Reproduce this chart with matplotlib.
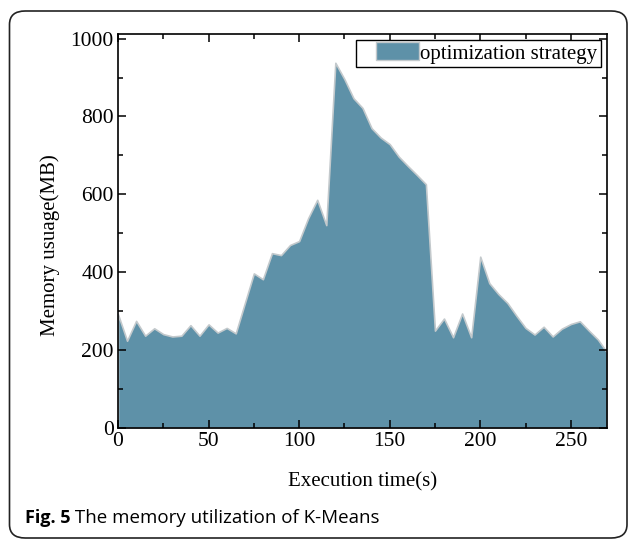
import matplotlib
matplotlib.use("Agg")
import matplotlib.pyplot as plt
from matplotlib.patches import FancyBboxPatch, Rectangle, Patch
from matplotlib.legend_handler import HandlerPatch
from matplotlib.ticker import MultipleLocator

# Speicherverbrauch K-Means (optimierte Strategie), Abtastung alle 5 s
zeit = list(range(0, 275, 5))
speicher = [292, 224, 275, 237, 256, 241, 235, 237, 264, 237,
            266, 245, 257, 243, 320, 397, 382, 449, 444, 470,
            480, 539, 586, 521, 938, 896, 847, 822, 770, 746,
            729, 697, 673, 650, 626, 250, 281, 233, 294, 233,
            440, 372, 344, 321, 288, 257, 240, 260, 235, 255,
            267, 274, 250, 227, 194]
legende = 'optimization strategy'
x_titel = 'Execution time(s)'
y_titel = 'Memory usuage(MB)'
bild_nr = 'Fig. 5'
bild_text = ' The memory utilization of K-Means'

farbe = '#5e91a8'
rand = '#c3c9cc'

plt.rcParams['font.family'] = ['Liberation Serif', 'DejaVu Serif']

fig = plt.figure(figsize=(6.3, 5.39), dpi=100)
ax = fig.add_axes([0.1873, 0.206, 0.9635 - 0.1873, 0.937 - 0.206])

ax.fill_between(zeit, speicher, 0, facecolor=farbe, edgecolor=rand, linewidth=1.2)

ax.set_xlim(0, 270)
ax.set_ylim(0, 1012)
ax.xaxis.set_major_locator(MultipleLocator(50))
ax.xaxis.set_minor_locator(MultipleLocator(25))
ax.yaxis.set_major_locator(MultipleLocator(200))
ax.yaxis.set_minor_locator(MultipleLocator(100))
ax.tick_params(which='both', direction='in', top=True, right=True,
               width=1.1, labelsize=15.5, pad=3)
ax.tick_params(which='major', length=6)
ax.tick_params(which='minor', length=3.5)
for s in ax.spines.values():
    s.set_linewidth(1.2)

ax.set_xlabel(x_titel, fontsize=15, labelpad=15)
ax.set_ylabel(y_titel, fontsize=15, labelpad=9)
ax.yaxis.set_label_coords(-0.118, 0.464)


# Legendensymbol etwas nach rechts einruecken
def symbol(legend, orig_handle, xdescent, ydescent, width, height, fontsize):
    versatz = 12
    return Rectangle((-xdescent + versatz, -ydescent - 1), width - versatz, height + 2)


proxy = Patch(facecolor=farbe, edgecolor=rand, linewidth=1.0, label=legende)
leg = ax.legend(handles=[proxy], loc='upper right', fontsize=15, fancybox=False,
                edgecolor='black', framealpha=1, borderpad=0.17,
                handlelength=2.85, handleheight=0.75, handletextpad=0.05,
                borderaxespad=0.3,
                handler_map={Patch: HandlerPatch(patch_func=symbol)})
leg.get_frame().set_linewidth(1.0)

# Rahmen um die gesamte Abbildung
rahmen = FancyBboxPatch((9.5 / 630, 1 - 538 / 539), 617.5 / 630, 527 / 539,
                        boxstyle='round,pad=0,rounding_size=0.025',
                        transform=fig.transFigure, facecolor='none',
                        edgecolor='#222222', linewidth=1.2)
fig.patches.append(rahmen)

t = fig.text(25 / 630, 1 - 523 / 539, bild_nr, family='Open Sans',
             fontweight='bold', fontsize=13, va='baseline')
fig.canvas.draw()
bb = t.get_window_extent()
fig.text(bb.x1 / 630, 1 - 523 / 539, bild_text, family='Open Sans',
         fontsize=13.5, va='baseline')

fig.savefig('out.png', dpi=100)
